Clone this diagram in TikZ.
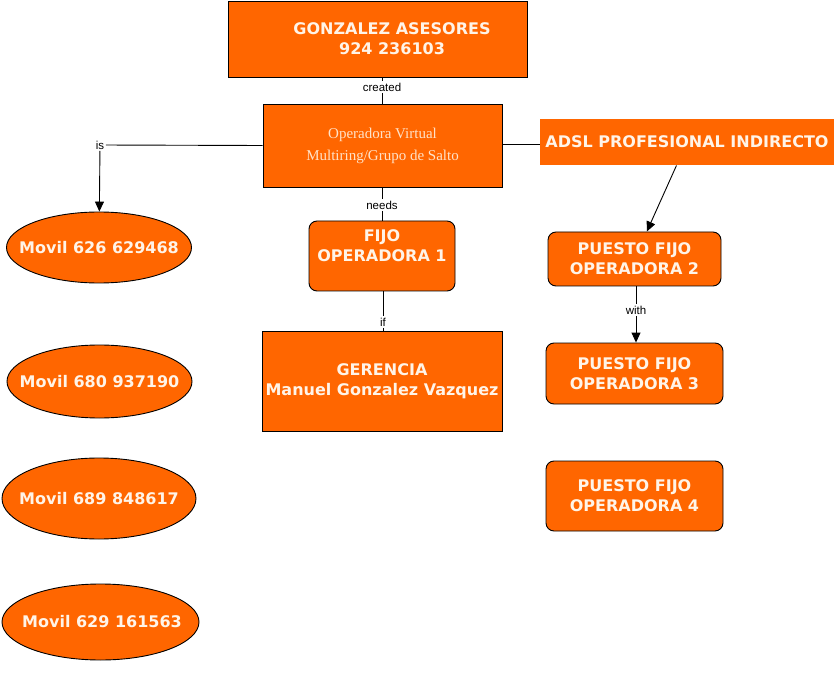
\documentclass[tikz,border=0pt]{standalone}
\usepackage{fontspec}
\setmainfont{DejaVu Sans}
\newfontfamily\lblfont{Liberation Sans}
\newfontfamily\serffont{Liberation Serif}
\usetikzlibrary{shapes.geometric,arrows.meta}
\definecolor{org}{RGB}{255,102,0}
\definecolor{txt}{RGB}{255,244,232}
\definecolor{serftxt}{RGB}{255,226,200}
\tikzset{
 box/.style={draw=black, fill=org, line width=0.9pt, inner sep=0pt, align=center, text=txt, font=\bfseries\fontsize{16}{20}\selectfont},
 rbox/.style={box, rounded corners=8pt},
 oval/.style={ellipse, draw=black, fill=org, line width=0.9pt, inner sep=0pt},
 btext/.style={inner sep=0pt, align=center, text=txt, font=\bfseries\fontsize{16}{20}\selectfont},
 lbl/.style={fill=white, inner sep=1.5pt, font=\lblfont\fontsize{11.5}{13}\selectfont, text=black},
 conn/.style={draw=black, line width=0.9pt},
 arr/.style={conn, -{Triangle[length=10pt,width=9pt]}},
}
\begin{document}
\begin{tikzpicture}[x=1pt,y=-1pt]
\useasboundingbox[fill=white] (0,0) rectangle (835,676);
% boxes
\node[box, minimum width=299pt, minimum height=76pt] (gon) at (377.5,39) {};
\node[btext] (gont) at (392,38.5) {GONZALEZ ASESORES\\924 236103};
\node[box, minimum width=239pt, minimum height=83pt, font=\serffont\fontsize{15}{22}\selectfont, text=serftxt] (op) at (382.5,145.5) {Operadora Virtual\\Multiring/Grupo de Salto};
\node[rbox, minimum width=146pt, minimum height=70pt] (f1) at (382,256) {};
\node[btext] (f1t) at (382,245.5) {FIJO\\OPERADORA 1};
\node[box, minimum width=240pt, minimum height=100pt] (ger) at (382,381) {GERENCIA\\Manuel Gonzalez Vazquez};
\node[oval, minimum width=185pt, minimum height=71pt] (m1) at (99,247.5) {};
\node[btext] (m1t) at (99,247.5) {Movil 626 629468};
\node[oval, minimum width=185pt, minimum height=73pt] (m2) at (99.5,381.5) {};
\node[btext] (m2t) at (99.5,381.5) {Movil 680 937190};
\node[oval, minimum width=194pt, minimum height=81pt] (m3) at (99,498.5) {};
\node[btext] (m3t) at (99,498.5) {Movil 689 848617};
\node[oval, minimum width=197pt, minimum height=76pt] (m4) at (100.5,622) {};
\node[btext] (m4t) at (102,622) {Movil 629 161563};
\node[box, draw=none, minimum width=294pt, minimum height=46pt] (adsl) at (687,142) {ADSL PROFESIONAL INDIRECTO};
\node[rbox, minimum width=173pt, minimum height=54pt] (p2) at (634.5,259) {PUESTO FIJO\\OPERADORA 2};
\node[rbox, minimum width=177pt, minimum height=61pt] (p3) at (634.5,373.5) {PUESTO FIJO\\OPERADORA 3};
\node[rbox, minimum width=177pt, minimum height=70pt] (p4) at (634.5,496) {PUESTO FIJO\\OPERADORA 4};
% labels
\node[lbl] (lc) at (382,87) {created};
\node[lbl] (ln) at (382,205) {needs};
\node[lbl] (li) at (383,322) {if};
\node[lbl] (lis) at (100,145) {is};
\node[lbl] (lw) at (636,310) {with};
\coordinate (opr) at (502,144);
% connectors
\draw[conn] (gon.south -| lc) -- (lc);
\draw[conn] (lc) -- (lc |- op.north);
\draw[conn] (op.south -| ln) -- (ln);
\draw[conn] (ln) -- (ln |- f1.north);
\draw[conn] (f1.south -| li) -- (li);
\draw[conn] (li) -- (li |- ger.north);
\draw[conn] (op.west) -- (lis);
\draw[arr] (lis) -- (m1);
\draw[conn] (opr) -- (opr -| adsl.west);
\draw[arr] (adsl) -- (p2);
\draw[conn] (p2.south -| lw) -- (lw);
\draw[arr] (lw) -- (lw |- p3.north);
\end{tikzpicture}
\end{document}
